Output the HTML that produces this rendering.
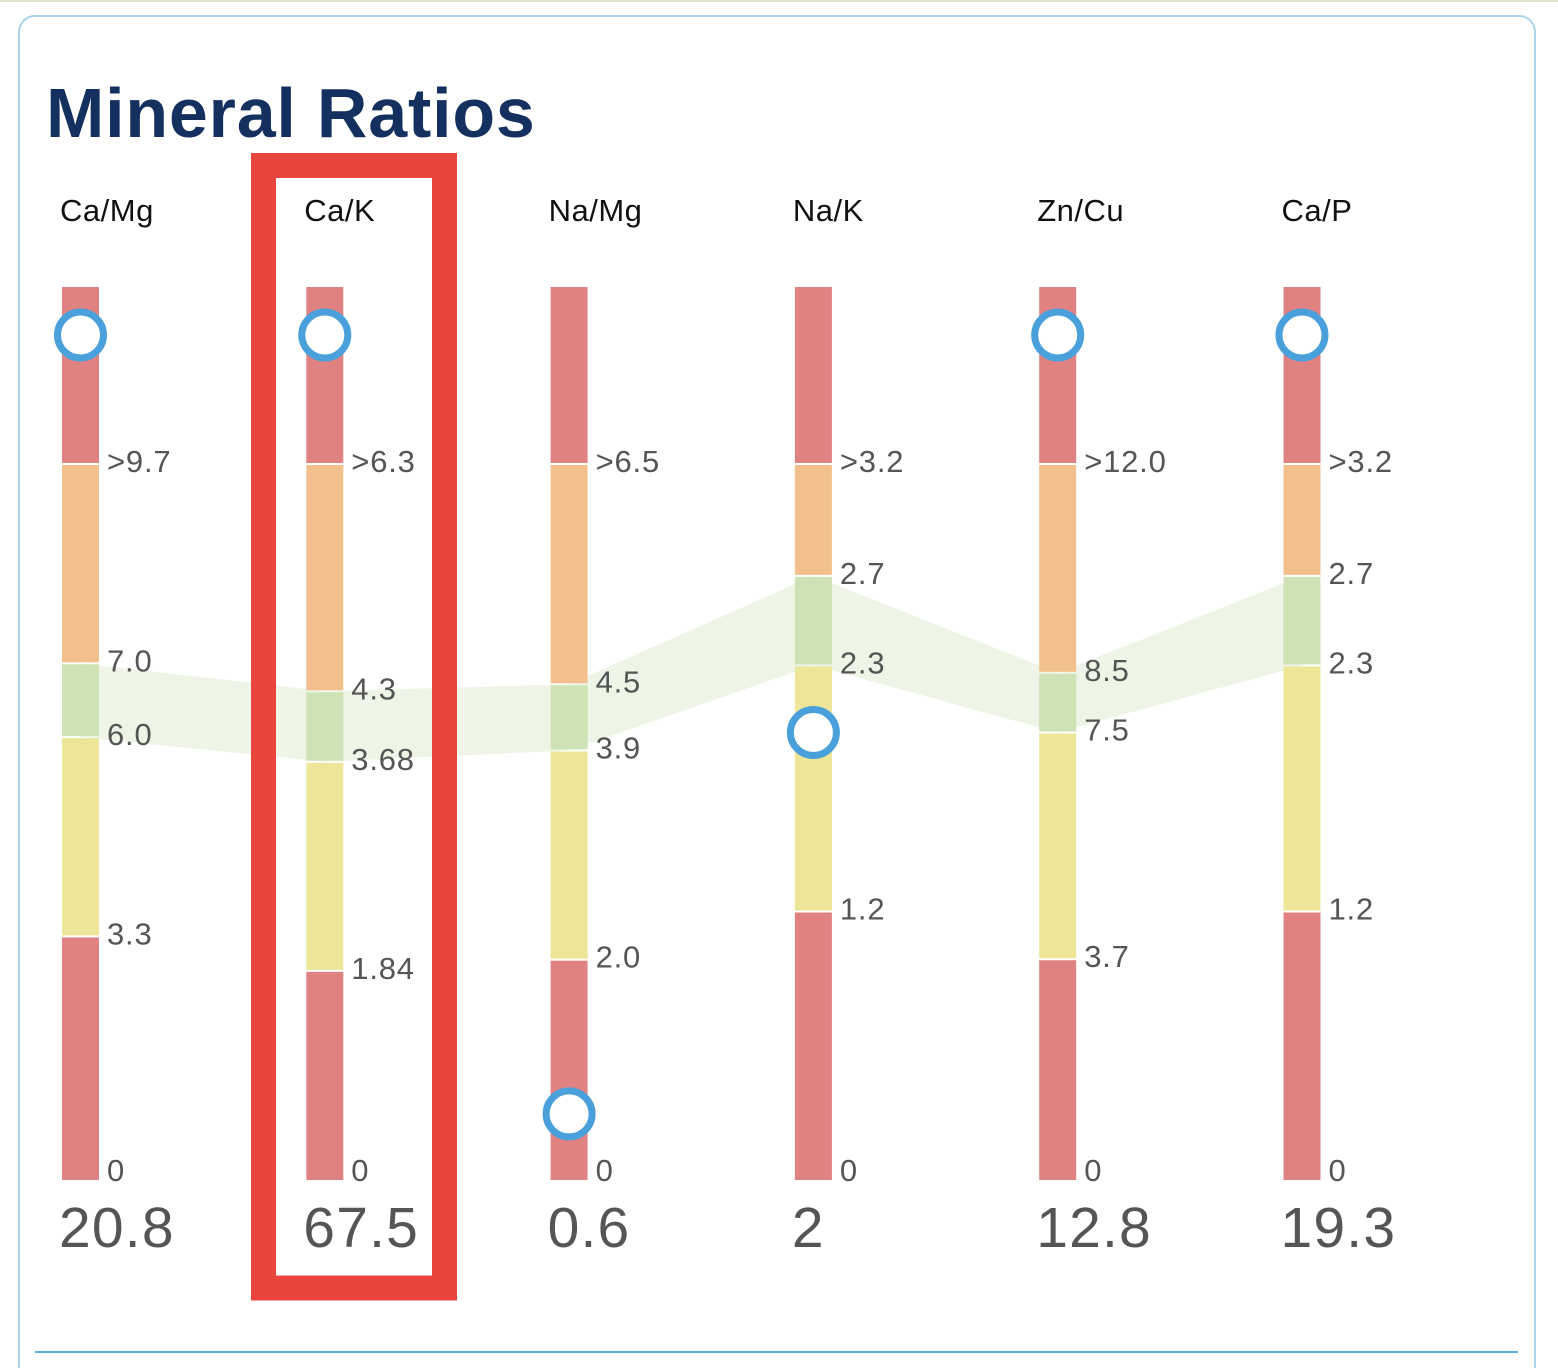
<!DOCTYPE html>
<html><head><meta charset="utf-8"><style>
html,body{margin:0;padding:0;background:#fff;width:1558px;height:1368px;overflow:hidden}
svg{display:block;font-family:"Liberation Sans",sans-serif}
</style></head><body>
<svg id="chart" width="1558" height="1368" xmlns="http://www.w3.org/2000/svg">
<rect x="0" y="0" width="1558" height="2" fill="#dfe3cc"/>
<rect x="19" y="16" width="1516" height="1400" rx="16" fill="#fff" stroke="#a9d4ee" stroke-width="2"/>
<text x="46" y="137" font-size="70" font-weight="bold" fill="#14305f" letter-spacing="0.8">Mineral Ratios</text>
<line x1="35" y1="1352" x2="1518" y2="1352" stroke="#5aaee0" stroke-width="2"/>
<g id="band"></g>
<g id="cols"></g>
<rect x="263.5" y="165.5" width="181" height="1122.5" fill="none" stroke="#e8453c" stroke-width="25"/>
</svg>
<script>
const names=["Ca/Mg","Ca/K","Na/Mg","Na/K","Zn/Cu","Ca/P"];
const values=[20.8,67.5,0.6,2,12.8,19.3];
const valueLabels=["20.8","67.5","0.6","2","12.8","19.3"];
const t0=[9.7,6.3,6.5,3.2,12.0,3.2];
const t1=[7.0,4.3,4.5,2.7,8.5,2.7];
const t2=[6.0,3.68,3.9,2.3,7.5,2.3];
const t3=[3.3,1.84,2.0,1.2,3.7,1.2];
const tickLabels=[
 [">9.7","7.0","6.0","3.3","0"],
 [">6.3","4.3","3.68","1.84","0"],
 [">6.5","4.5","3.9","2.0","0"],
 [">3.2","2.7","2.3","1.2","0"],
 [">12.0","8.5","7.5","3.7","0"],
 [">3.2","2.7","2.3","1.2","0"]];
const X0=62,DX=244.3,BW=37,TOP=287,BOT=1180,Y_T0=464,MARK_TOP=335;
function boundaries(i){
 const total=BOT-Y_T0;
 const w=[(t0[i]-t1[i]),(t1[i]-t2[i]),(t2[i]-t3[i]),t3[i]];
 const adj=w.map(v=>v/t0[i]);
 const gmin=0.066; if(adj[1]<gmin){const d=gmin-adj[1];adj[1]=gmin;adj[0]-=d/2;adj[2]-=d/2;}
 const s=adj.reduce((a,b)=>a+b,0);
 let y=Y_T0,res=[Y_T0];
 for(let k=0;k<4;k++){y+=adj[k]/s*total;res.push(y);}
 return res;
}
function yScale(i,v){
 const b=boundaries(i);const t=[t0[i],t1[i],t2[i],t3[i],0];
 if(v>=t[0])return MARK_TOP;
 for(let k=0;k<4;k++){if(v<=t[k]&&v>=t[k+1])return b[k+1]+(b[k]-b[k+1])*(v-t[k+1])/(t[k]-t[k+1]);}
 return BOT;
}
const NS="http://www.w3.org/2000/svg";
function mk(tag,attrs,parent){const e=document.createElementNS(NS,tag);for(const k in attrs)e.setAttribute(k,attrs[k]);parent.appendChild(e);return e;}
const cols=document.getElementById('cols'),band=document.getElementById('band');
let topPts=[],botPts=[];
names.forEach((n,i)=>{const b=boundaries(i);const x=X0+i*DX;topPts.push([x+BW/2,b[1]]);botPts.push([x+BW/2,b[2]]);});
const pts=topPts.concat(botPts.slice().reverse()).map(p=>p.join(',')).join(' ');
const poly=mk('polygon',{points:pts,fill:'#eef5e6'},band);


const colors=['#e08282','#f2c08d','#cfe2b5','#ede699','#e08282'];
names.forEach((n,i)=>{
 const x=X0+i*DX;
 const g=mk('g',{},cols);
 
 
 const h=mk('text',{x:x-2,y:221,'font-size':31,fill:'#111','letter-spacing':0.5},g);h.textContent=n;
 
 
 const b=boundaries(i);const edges=[TOP].concat(b);
 for(let k=0;k<5;k++){
  const y1=edges[k]+(k>0?1:0),y2=edges[k+1]-(k<4?1:0);
  const r=mk('rect',{x:x,y:y1,width:BW,height:y2-y1,fill:colors[k]},g);
  
  
 }
 tickLabels[i].forEach((l,k)=>{
  const t=mk('text',{x:x+45,y:(k==4?BOT+1:b[k]+8),'font-size':31,fill:'#555','letter-spacing':0.8},g);
  t.textContent=l;
  
  
 });
 const c=mk('circle',{cx:x+BW/2,cy:yScale(i,values[i]),r:23,fill:'#fff',stroke:'#4aa0db','stroke-width':7},g);
 
 
 const v=mk('text',{x:x-3,y:1247,'font-size':57,fill:'#555','letter-spacing':1.2},g);v.textContent=valueLabels[i];
 
 
});
</script>
</body></html>
